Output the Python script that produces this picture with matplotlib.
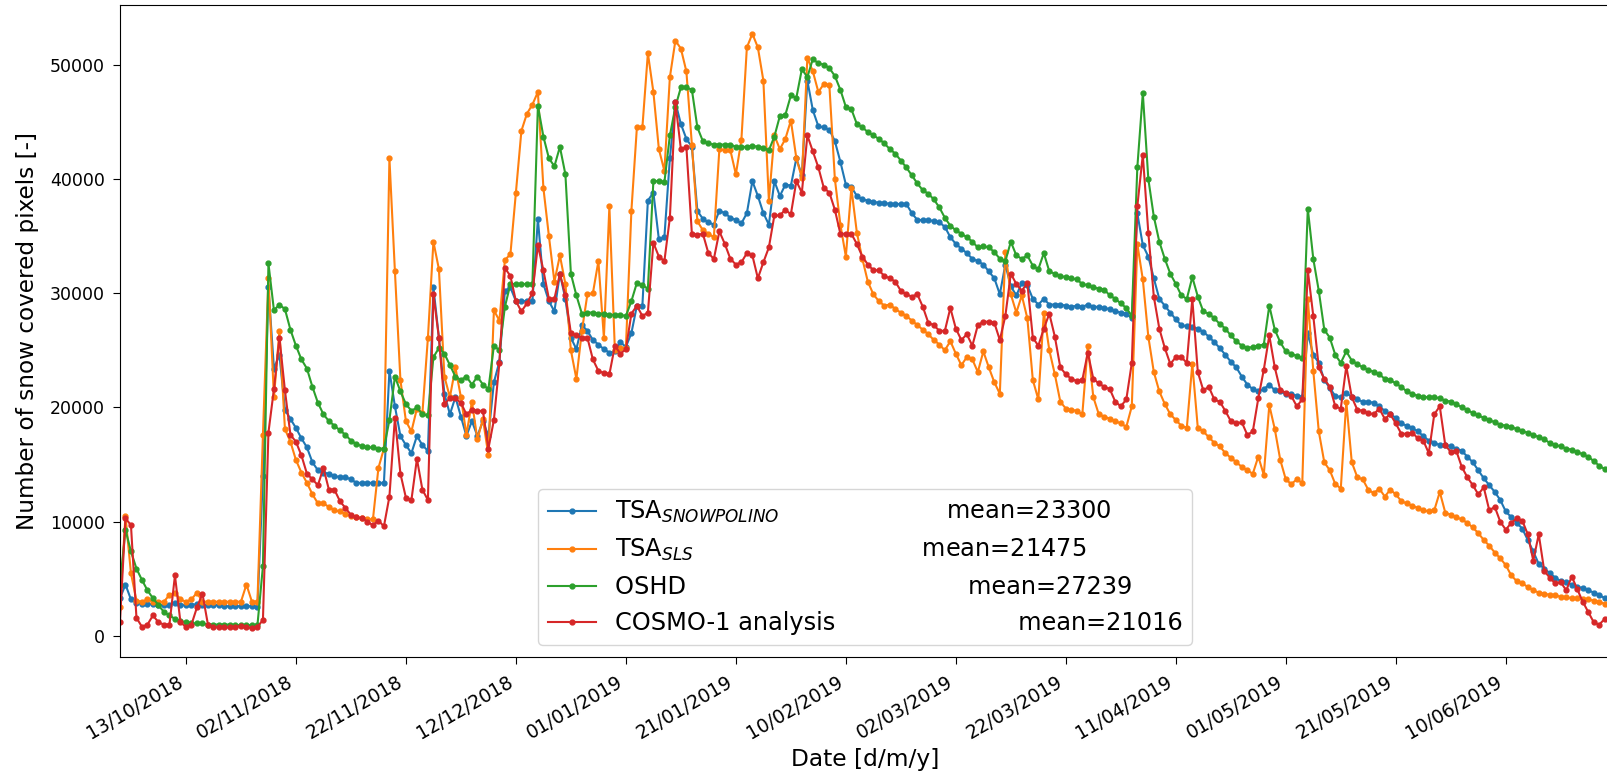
import pandas as pd
import matplotlib
matplotlib.use('Agg')
import matplotlib.pyplot as plt
import matplotlib.dates as mdates


# daily number of snow covered pixels, 01/10/2018 onwards
tsa_snowpolino = [
    3300, 4500, 3200, 2900, 2800, 2800, 2800, 2700, 2700, 2700,
    2900, 2700, 2700, 2700, 2800, 2700, 2700, 2700, 2700, 2600,
    2600, 2600, 2600, 2600, 2600, 2500, 14000, 30500, 23400, 24600,
    19800, 19000, 18200, 17300, 16500, 15200, 14500, 14300, 14200, 14000,
    13900, 13900, 13700, 13400, 13400, 13400, 13400, 13400, 13400, 23200,
    20100, 17500, 16700, 16000, 17500, 16700, 16200, 30500, 26100, 21200,
    19400, 20900, 19200, 17500, 18800, 17500, 18800, 17500, 22200, 24000,
    30200, 30500, 29300, 29300, 29300, 29300, 36500, 30800, 29300, 28400,
    31700, 29500, 26100, 25100, 27200, 26700, 25900, 25500, 25100, 24800,
    24900, 25700, 25300, 26500, 28900, 28900, 38100, 38800, 34700, 34900,
    41800, 46700, 44800, 43500, 42800, 37200, 36500, 36200, 36000, 37200,
    37000, 36600, 36400, 36100, 37000, 39800, 38500, 37000, 36000, 39800,
    38500, 39500, 39400, 41800, 40300, 48600, 46000, 44600, 44500, 44300,
    43300, 41500, 39500, 39300, 38500, 38200, 38100, 38000, 37900, 37900,
    37800, 37800, 37800, 37800, 37000, 36400, 36400, 36400, 36300, 36200,
    35800, 34900, 34300, 33900, 33500, 33000, 32800, 32500, 31900, 31300,
    29900, 32500, 30600, 29800, 30900, 30700, 29500, 29000, 29500, 29000,
    29000, 29000, 28900, 28800, 28900, 28800, 29000, 28800, 28800, 28700,
    28600, 28400, 28300, 28200, 27800, 37000, 34200, 33200, 31300, 29500,
    28900, 28300, 27700, 27200, 27100, 27000, 26900, 26600, 26200, 25700,
    25200, 24600, 24000, 23500, 22700, 22000, 21600, 21400, 21600, 22000,
    21500, 21400, 21200, 21200, 21000, 20900, 26500, 24600, 23900, 22400,
    21700, 21000, 20900, 21300, 20900, 20700, 20500, 20500, 20400, 20100,
    19700, 19400, 19100, 18600, 18400, 18200, 17900, 17500, 17100, 16900,
    16700, 16700, 16600, 16400, 16200, 15700, 15200, 14500, 13800, 13200,
    12600, 11900, 10900, 10400, 9900, 9400, 8400, 7400, 6300, 5900,
    5500, 5100, 4800, 4700, 4500, 4300, 4200, 4000, 3800, 3600,
    3300, 3100]

tsa_sls = [
    2500, 10500, 5500, 3100, 3000, 3200, 3000, 3000, 3000, 3600,
    3800, 3200, 3000, 3200, 3800, 3000, 3000, 3000, 3000, 3000,
    3000, 3000, 3000, 4500, 3000, 3000, 17600, 31300, 20900, 26700,
    18100, 17000, 15400, 14300, 13400, 12400, 11600, 11600, 11300, 11000,
    10900, 10700, 10500, 10400, 10300, 10200, 10200, 14700, 16400, 41800,
    31900, 22400, 18800, 17900, 19900, 19500, 26100, 34500, 32100, 22700,
    20900, 23500, 20900, 17600, 20500, 17200, 19000, 15800, 28500, 27600,
    32900, 33400, 38800, 44200, 45700, 46500, 47600, 39200, 35000, 31000,
    33300, 30800, 25000, 22500, 26700, 29900, 30000, 32800, 26100, 37600,
    25000, 25200, 25200, 37200, 44500, 44500, 51000, 47600, 42600, 40700,
    48900, 52100, 51400, 49400, 43000, 36300, 35500, 35200, 34900, 42600,
    42500, 42500, 40400, 43400, 51500, 52700, 51500, 48600, 38100, 43800,
    42600, 43500, 45100, 41800, 40100, 50600, 49400, 47600, 48300, 48200,
    40000, 36000, 33200, 39200, 35300, 33000, 31000, 29900, 29300, 28900,
    29000, 28600, 28300, 28000, 27600, 27200, 26800, 26400, 25900, 25500,
    25000, 25800, 24700, 23700, 24400, 24200, 23100, 24900, 23500, 22200,
    21200, 33600, 29900, 28300, 29800, 27800, 22400, 20700, 28300, 25000,
    22900, 20500, 19900, 19800, 19700, 19400, 25400, 20900, 19400, 19200,
    19000, 18800, 18600, 18300, 20100, 34300, 31200, 26200, 23100, 21400,
    20300, 19400, 18900, 18400, 18200, 23800, 18200, 17900, 17400, 16900,
    16600, 16000, 15600, 15200, 14800, 14500, 14200, 15700, 14100, 20200,
    18100, 15400, 13700, 13300, 13700, 13400, 29500, 23200, 17900, 15200,
    14500, 13300, 12900, 20500, 15200, 13900, 13700, 12800, 12500, 12900,
    12200, 12800, 12400, 11800, 11600, 11400, 11200, 11000, 10900, 11000,
    12600, 10800, 10600, 10400, 10200, 9900, 9500, 9000, 8400, 7900,
    7300, 6800, 6200, 5300, 4800, 4600, 4300, 4000, 3800, 3700,
    3600, 3600, 3400, 3400, 3300, 3300, 3200, 3200, 3100, 3000,
    2800, 2700]

oshd = [
    4500, 9300, 7400, 5900, 4900, 4000, 3300, 2700, 2100, 1800,
    1500, 1300, 1200, 1100, 1100, 1100, 1000, 1000, 1000, 1000,
    1000, 950, 950, 950, 950, 950, 6100, 32600, 28500, 29000,
    28600, 26800, 25400, 24200, 23400, 21800, 20400, 19400, 18800, 18400,
    18000, 17600, 17100, 16800, 16600, 16500, 16500, 16400, 16400, 18900,
    22700, 21400, 20300, 19700, 20000, 19400, 19300, 24400, 25200, 24700,
    23700, 22700, 22400, 22700, 22000, 22700, 22000, 21600, 25400, 25000,
    28800, 30800, 30800, 30800, 30800, 30800, 46400, 43700, 41800, 41100,
    42800, 40400, 31700, 29800, 28200, 28300, 28300, 28200, 28200, 28100,
    28100, 28100, 28000, 29300, 30900, 30700, 30400, 39800, 39800, 39700,
    43800, 46300, 48000, 48000, 47800, 44500, 43300, 43100, 43000, 43000,
    43000, 43000, 42800, 42800, 42800, 42900, 42800, 42700, 42500, 43700,
    45500, 45600, 47300, 47100, 49600, 48900, 50500, 50100, 50000, 49700,
    49000, 47800, 46300, 46100, 44800, 44500, 44100, 43800, 43500, 43100,
    42600, 42200, 41600, 41000, 40300, 39600, 39000, 38700, 38200, 37500,
    36600, 35900, 35500, 35200, 34900, 34500, 34000, 34100, 34000, 33600,
    33000, 32800, 34500, 33300, 33000, 33300, 32400, 32100, 33500, 31900,
    31700, 31500, 31400, 31300, 31200, 30800, 30700, 30500, 30400, 30300,
    29800, 29500, 29100, 28700, 28000, 41000, 47500, 40000, 36700, 34500,
    33000, 31700, 30800, 29800, 29500, 31400, 29700, 28400, 28200, 27800,
    27300, 26900, 26300, 25800, 25400, 25200, 25300, 25400, 25500, 28900,
    26800, 25700, 24900, 24700, 24500, 24300, 37400, 33000, 30200, 26800,
    26100, 24600, 23900, 24900, 24100, 23800, 23500, 23300, 23100, 22900,
    22500, 22400, 22100, 21800, 21400, 21200, 21000, 20900, 20900, 20900,
    20800, 20600, 20500, 20300, 20000, 19800, 19500, 19300, 19100, 18900,
    18700, 18500, 18400, 18300, 18100, 17900, 17800, 17600, 17400, 17200,
    16900, 16700, 16600, 16400, 16300, 16100, 15900, 15700, 15300, 14900,
    14600, 14300]

cosmo1 = [
    1200, 10300, 9700, 1600, 800, 1000, 1800, 1200, 1000, 1000,
    5300, 1200, 800, 1000, 2500, 3700, 1000, 800, 750, 750,
    750, 750, 900, 750, 700, 800, 1400, 17800, 21600, 26100,
    21500, 17600, 17000, 15800, 14200, 13700, 13200, 14700, 12800, 12800,
    11800, 11200, 10600, 10400, 10300, 10000, 9700, 10100, 9600, 12200,
    19100, 14200, 12100, 11900, 15500, 12800, 11900, 29900, 26100, 20300,
    20800, 20800, 20400, 19400, 19800, 19700, 19700, 16400, 18900, 23900,
    32200, 31500, 29300, 28400, 29100, 30000, 34200, 32000, 29500, 29500,
    31700, 29800, 26500, 26300, 26100, 26100, 24200, 23200, 23000, 22900,
    25400, 24700, 25100, 28200, 28900, 28000, 28300, 34400, 33200, 32800,
    36600, 46700, 42600, 42800, 35200, 35100, 35200, 33500, 33000, 35400,
    34300, 33000, 32500, 32700, 33500, 33300, 31300, 32700, 34000, 36800,
    36800, 37300, 36900, 39800, 38800, 43800, 42400, 41000, 39200, 38800,
    37300, 35200, 35200, 35200, 34300, 33200, 32500, 32000, 32000, 31500,
    31300, 31000, 30200, 29900, 29700, 29900, 28800, 27400, 27200, 26700,
    26700, 28700, 26900, 25900, 26400, 25400, 27200, 27500, 27500, 27400,
    25900, 28000, 31700, 30800, 30200, 30900, 26100, 25400, 26900, 28200,
    26200, 23500, 22900, 22500, 22300, 22400, 24800, 22500, 22100, 21800,
    21600, 20500, 20100, 20700, 23900, 37600, 42100, 35300, 29700, 26900,
    25200, 23800, 24400, 24400, 23900, 29500, 23100, 21500, 21800, 20700,
    20500, 19700, 18800, 18600, 18700, 17600, 17900, 20800, 23300, 26300,
    23500, 21500, 21300, 21000, 20100, 20700, 32000, 28000, 23500, 22500,
    21800, 20100, 19900, 23600, 20900, 19800, 19700, 19500, 19400, 19900,
    19000, 19400, 18600, 17700, 17700, 17800, 17300, 17100, 16000, 19400,
    20100, 16700, 16100, 16200, 14800, 13900, 13200, 12400, 13000, 11000,
    11300, 10000, 9300, 9900, 10300, 10100, 8900, 6600, 8900, 5700,
    5100, 4600, 4700, 4000, 5200, 4100, 3000, 2100, 1200, 1000,
    1500, 1600]

names = ['TSA$_{SNOWPOLINO}$', 'TSA$_{SLS}$', 'OSHD', 'COSMO-1 analysis']
means = [23300, 21475, 27239, 21016]

dates = pd.date_range('2018-10-01', periods=len(tsa_snowpolino), freq='D')
tick_dates = pd.date_range('2018-10-13', '2019-06-29', freq='20D')

fig = plt.figure(figsize=(16.08, 7.77), dpi=100)
ax = fig.add_axes([0.0746, 0.1544, 0.9268, 0.8392])

# spaces push the mean values to the right inside the legend
gaps = [22, 30, 37, 24]
series = [tsa_snowpolino, tsa_sls, oshd, cosmo1]
for values, name, m, gap in zip(series, names, means, gaps):
    ax.plot(dates, values, marker='.', markersize=7, linewidth=1.5,
            label=name + ' ' * gap + 'mean=' + str(m))

ax.set_xlim(dates[0], dates[-1])
ax.set_ylim(-1840, 55215)
ax.set_xticks(tick_dates)
ax.xaxis.set_major_formatter(mdates.DateFormatter('%d/%m/%Y'))
plt.setp(ax.get_xticklabels(), rotation=30, ha='right')
ax.tick_params(axis='both', length=5, pad=6)
ax.tick_params(axis='x', labelsize=13.5)
ax.tick_params(axis='y', labelsize=12.5)

ax.set_xlabel('Date [d/m/y]', fontsize=16.8)
ax.set_ylabel('Number of snow covered pixels [-]', fontsize=16.7, labelpad=8)
ax.legend(loc='lower center', fontsize=17.3)

fig.savefig('out.png', dpi=100)
